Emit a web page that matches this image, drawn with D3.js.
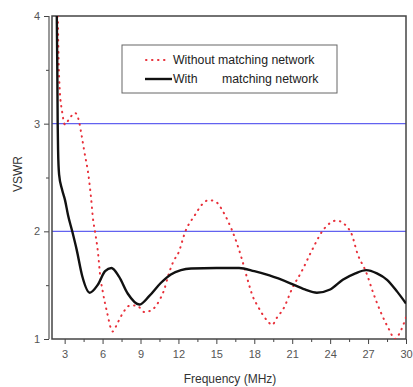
<!DOCTYPE html>
<html>
<head>
<meta charset="utf-8">
<script src="https://cdn.jsdelivr.net/npm/d3@7"></script>
<style>
  body { margin: 0; background: #fff; }
  text { font-family: "Liberation Sans", Arial, sans-serif; }
</style>
</head>
<body>
<div id="chart"></div>
<script>
// values
const freqWith = [2.38, 2.42, 2.45, 2.48, 2.56, 2.79, 3.03, 3.27, 3.6, 3.95, 4.4, 4.98, 5.6, 6.2, 6.7, 7.3, 8.0, 8.9, 9.7, 10.6, 11.4, 12.2, 13, 15, 16.8, 18, 19.2, 20.8, 22.0, 22.95, 24, 25, 26, 26.85, 27.7, 28.5, 29.3, 30];
const vswrWith = [4.0, 3.5, 3.0, 2.76, 2.53, 2.39, 2.29, 2.15, 2.0, 1.83, 1.58, 1.43, 1.5, 1.63, 1.66, 1.58, 1.42, 1.32, 1.4, 1.52, 1.6, 1.64, 1.655, 1.66, 1.66, 1.63, 1.59, 1.52, 1.46, 1.43, 1.46, 1.55, 1.61, 1.64, 1.61, 1.55, 1.44, 1.33];

const freqWithout = [2.46, 2.52, 2.62, 2.79, 3.03, 3.34, 3.82, 4.14, 4.3, 4.53, 4.93, 5.09, 5.24, 5.4, 5.64, 5.8, 6.03, 6.35, 6.8, 7.19, 7.6, 8.17, 8.72, 9.3, 9.9, 10.5, 10.85, 11.25, 11.6, 12.0, 12.55, 13.3, 13.8, 14.4, 15.0, 15.5, 15.9, 16.5, 17.0, 17.4, 17.9, 18.3, 18.7, 19.1, 19.4, 19.8, 20.3, 21.0, 21.8, 22.5, 23.5, 24.5, 25.6, 26.2, 26.85, 27.4, 28.0, 28.7, 29.1, 29.6, 30];
const vswrWithout = [4.0, 3.6, 3.3, 3.12, 2.99, 3.04, 3.1, 3.02, 2.92, 2.76, 2.48, 2.31, 2.12, 2.0, 1.8, 1.6, 1.43, 1.25, 1.07, 1.15, 1.24, 1.31, 1.31, 1.25, 1.27, 1.36, 1.45, 1.61, 1.72, 1.8, 2.0, 2.15, 2.24, 2.29, 2.27, 2.19, 2.1, 1.93, 1.75, 1.58, 1.39, 1.3, 1.22, 1.16, 1.13, 1.2, 1.28, 1.47, 1.64, 1.81, 2.02, 2.1, 2.0, 1.78, 1.62, 1.43, 1.25, 1.08, 1.0, 1.08, 1.2];

const xTicks = [3, 6, 9, 12, 15, 18, 21, 24, 27, 30];
const yTicks = [1, 2, 3, 4];
const gridValues = [2, 3];
const legendLabels = ["Without matching network", "With", "matching network"];

document.addEventListener("DOMContentLoaded", setup)

function setup() {
  const width = 413;
  const height = 387;
  const plot = { left: 52, right: 406, top: 16, bottom: 339 };

  const svg = d3.select("#chart").append("svg")
      .attr("width", width)
      .attr("height", height);

  const x = d3.scaleLinear().domain([2, 30]).range([plot.left, plot.right]);
  const y = d3.scaleLinear().domain([1, 4]).range([plot.bottom, plot.top]);

  svg.append("clipPath").attr("id", "clip")
      .append("rect")
      .attr("x", plot.left).attr("y", plot.top)
      .attr("width", plot.right - plot.left)
      .attr("height", plot.bottom - plot.top);

  // blue reference lines
  svg.append("g")
      .selectAll("line")
      .data(gridValues)
      .enter()
      .append("line")
      .attr("x1", plot.left).attr("x2", plot.right)
      .attr("y1", d => y(d)).attr("y2", d => y(d))
      .attr("stroke", "#6262f0")
      .attr("stroke-width", 1.4);

  // axes
  const xMinor = d3.range(4.5, 30, 3);
  const yMinor = [1.5, 2.5, 3.5];

  svg.append("g")
      .attr("transform", `translate(0,${plot.bottom})`)
      .call(d3.axisBottom(x).tickValues(xTicks).tickSize(5).tickPadding(6).tickFormat(d3.format("d")));
  svg.append("g")
      .attr("transform", `translate(0,${plot.bottom})`)
      .call(d3.axisBottom(x).tickValues(xMinor).tickSize(3).tickFormat(""));

  svg.append("g")
      .attr("transform", `translate(${plot.left - 3},0)`)
      .call(d3.axisLeft(y).tickValues(yTicks).tickSize(5).tickPadding(4).tickFormat(d3.format("d")));
  svg.append("g")
      .attr("transform", `translate(${plot.left - 3},0)`)
      .call(d3.axisLeft(y).tickValues(yMinor).tickSize(3).tickFormat(""));

  svg.selectAll(".domain").remove();
  svg.selectAll(".tick line").attr("stroke", "#444");
  svg.selectAll(".tick text")
      .attr("fill", "#555")
      .style("font-size", "11px")
      .style("font-family", "'Liberation Sans', Arial, sans-serif");

  // frame (left edge is drawn doubled, as in the original)
  svg.append("rect")
      .attr("x", plot.left).attr("y", plot.top)
      .attr("width", plot.right - plot.left)
      .attr("height", plot.bottom - plot.top)
      .attr("fill", "none")
      .attr("stroke", "#444")
      .attr("stroke-width", 1.5);
  svg.append("line")
      .attr("x1", plot.left - 3).attr("x2", plot.left - 3)
      .attr("y1", plot.top).attr("y2", plot.bottom)
      .attr("stroke", "#555")
      .attr("stroke-width", 1.2);

  // curves
  const line = d3.line()
      .x(d => x(d[0]))
      .y(d => y(d[1]))
      .curve(d3.curveMonotoneX);

  const curves = svg.append("g").attr("clip-path", "url(#clip)");

  curves.append("path")
      .datum(d3.zip(freqWithout, vswrWithout))
      .attr("d", line)
      .attr("fill", "none")
      .attr("stroke", "#e8303a")
      .attr("stroke-width", 2)
      .attr("stroke-linecap", "round")
      .attr("stroke-dasharray", "0.5,5.5");

  curves.append("path")
      .datum(d3.zip(freqWith, vswrWith))
      .attr("d", line)
      .attr("fill", "none")
      .attr("stroke", "#111")
      .attr("stroke-width", 2.4);

  // axis titles
  svg.append("text")
      .attr("x", 230).attr("y", 383)
      .attr("text-anchor", "middle")
      .attr("fill", "#333")
      .style("font-size", "12px")
      .text("Frequency (MHz)");

  svg.append("text")
      .attr("transform", "translate(22,174) rotate(-90)")
      .attr("text-anchor", "middle")
      .attr("fill", "#333")
      .style("font-size", "12px")
      .text("VSWR");

  // legend
  const legend = svg.append("g");
  legend.append("rect")
      .attr("x", 122).attr("y", 45)
      .attr("width", 215).attr("height", 48)
      .attr("fill", "#fff")
      .attr("stroke", "#666")
      .attr("stroke-width", 1);

  legend.append("line")
      .attr("x1", 146).attr("x2", 170).attr("y1", 60).attr("y2", 60)
      .attr("stroke", "#e8303a")
      .attr("stroke-width", 2)
      .attr("stroke-linecap", "round")
      .attr("stroke-dasharray", "0.5,5.5");
  legend.append("line")
      .attr("x1", 145).attr("x2", 172).attr("y1", 79).attr("y2", 79)
      .attr("stroke", "#111")
      .attr("stroke-width", 2.4);

  legend.append("text")
      .attr("x", 173).attr("y", 64)
      .attr("fill", "#222")
      .style("font-size", "12.3px")
      .text(legendLabels[0]);
  const t2 = legend.append("text")
      .attr("y", 83)
      .attr("fill", "#222")
      .style("font-size", "12.3px");
  t2.append("tspan").attr("x", 173).text(legendLabels[1]);
  t2.append("tspan").attr("x", 222).text(legendLabels[2]);
}
</script>
</body>
</html>
